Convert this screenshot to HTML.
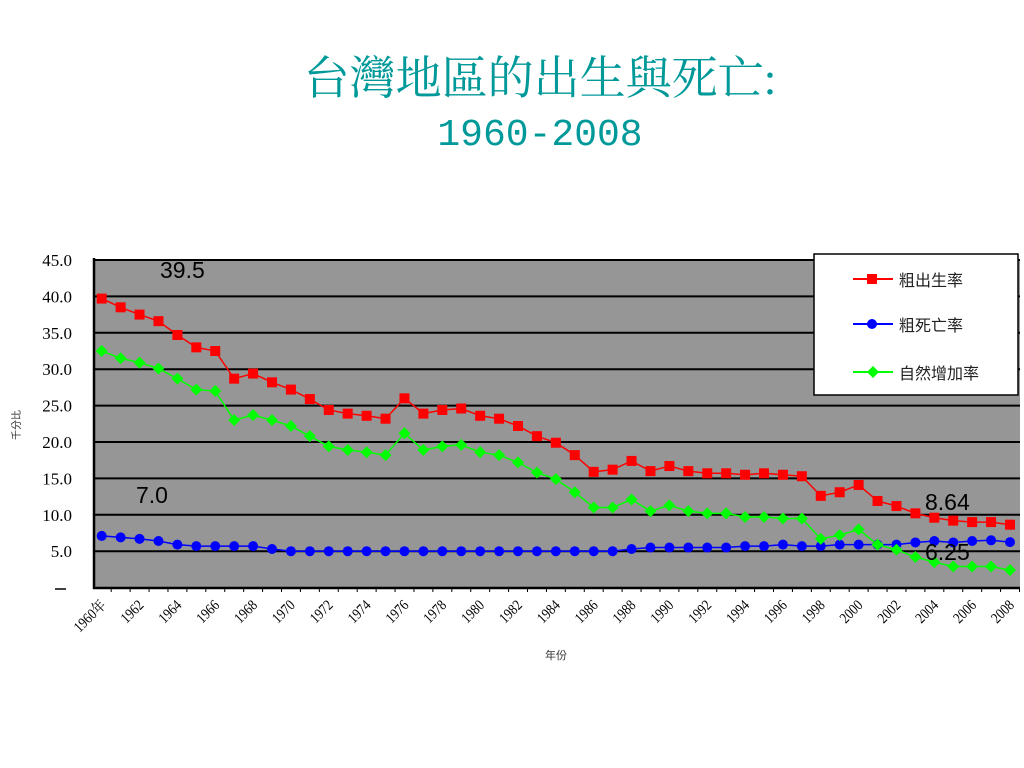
<!DOCTYPE html>
<html><head><meta charset="utf-8"><style>
body{margin:0;background:#fff;width:1024px;height:768px;overflow:hidden}
svg{display:block}
</style></head><body>
<svg id="chart" width="1024" height="768" xmlns="http://www.w3.org/2000/svg">
<text x="540" y="94" text-anchor="middle" font-family="'Liberation Serif','Noto Serif CJK SC',serif" font-size="46" fill="#009999">台灣地區的出生與死亡:</text>
<text x="540" y="145" text-anchor="middle" font-family="'Liberation Mono',monospace" font-size="38" fill="#009999">1960-2008</text>
<rect x="94" y="260" width="926" height="328" fill="#969696"/>
<g id="grid"></g>
<g id="series"></g>
<g id="axes"></g>
<text transform="translate(20,425) rotate(-90)" text-anchor="middle" font-family="'Liberation Sans','Noto Sans CJK TC',sans-serif" font-size="10" fill="#333">千分比</text>
<text x="556" y="659" text-anchor="middle" font-family="'Liberation Sans','Noto Sans CJK TC',sans-serif" font-size="11" fill="#333">年份</text>
<text x="160" y="278" font-family="'Liberation Sans',sans-serif" font-size="23" fill="#000">39.5</text>
<text x="136" y="503" font-family="'Liberation Sans',sans-serif" font-size="23" fill="#000">7.0</text>
<text x="925" y="510" font-family="'Liberation Sans',sans-serif" font-size="23" fill="#000">8.64</text>
<text x="925" y="560" font-family="'Liberation Sans',sans-serif" font-size="23" fill="#000">6.25</text>
<g>
<rect x="814" y="254" width="204" height="141" fill="#fff" stroke="#000" stroke-width="1.5"/>
<g><line x1="853" y1="279" x2="893" y2="279" stroke="#f00" stroke-width="2"/><rect x="867" y="274" width="10" height="10" fill="#f00"/><text x="899" y="286" font-family="'Liberation Sans','Noto Sans CJK TC',sans-serif" font-size="16" fill="#222">粗出生率</text></g>
<g><line x1="853" y1="324" x2="893" y2="324" stroke="#00f" stroke-width="2"/><circle cx="872" cy="324" r="5" fill="#00f"/><text x="899" y="331" font-family="'Liberation Sans','Noto Sans CJK TC',sans-serif" font-size="16" fill="#222">粗死亡率</text></g>
<g><line x1="853" y1="372" x2="893" y2="372" stroke="#0f0" stroke-width="2"/><polygon points="873,366 879,372 873,378 867,372" fill="#0f0"/><text x="899" y="379" font-family="'Liberation Sans','Noto Sans CJK TC',sans-serif" font-size="16" fill="#222">自然增加率</text></g>
</g>
</svg>
<script>
const years=[];for(let y=1960;y<=2008;y++)years.push(y);
const birthRate=[39.7,38.5,37.5,36.6,34.7,33.0,32.5,28.7,29.4,28.2,27.2,25.9,24.4,23.9,23.6,23.2,26.0,23.9,24.4,24.6,23.6,23.2,22.2,20.8,19.9,18.2,15.9,16.2,17.4,16.0,16.7,16.0,15.7,15.7,15.5,15.7,15.5,15.3,12.6,13.1,14.1,11.9,11.2,10.2,9.6,9.2,9.0,9.0,8.64];
const deathRate=[7.1,6.9,6.7,6.4,5.9,5.7,5.7,5.7,5.7,5.3,5.0,5.0,5.0,5.0,5.0,5.0,5.0,5.0,5.0,5.0,5.0,5.0,5.0,5.0,5.0,5.0,5.0,5.0,5.3,5.5,5.5,5.5,5.5,5.5,5.7,5.7,5.9,5.7,5.7,5.9,5.9,5.9,5.9,6.2,6.4,6.2,6.4,6.5,6.25];
const naturalRate=[32.5,31.5,30.9,30.1,28.7,27.2,27.0,23.0,23.7,23.0,22.2,20.8,19.4,18.9,18.6,18.2,21.2,18.9,19.4,19.6,18.6,18.2,17.2,15.8,14.9,13.1,11.0,11.0,12.1,10.5,11.3,10.5,10.2,10.2,9.7,9.7,9.5,9.5,6.7,7.2,8.0,5.9,5.2,4.2,3.5,2.9,2.9,2.9,2.4];
const yTicks=[5,10,15,20,25,30,35,40,45];
const NS='http://www.w3.org/2000/svg';
const x=i=>101.7+i*(1010-101.7)/(years.length-1);
const y=v=>587.6-v*(587.6-260)/45;
function mk(tag,attrs,parent){const e=document.createElementNS(NS,tag);for(const k in attrs)e.setAttribute(k,attrs[k]);parent.appendChild(e);return e;}
const grid=document.getElementById('grid'),axes=document.getElementById('axes'),ser=document.getElementById('series');
yTicks.forEach(t=>{
  const l=mk('line',{x1:94,x2:1020,y1:y(t),y2:y(t),stroke:'#000','stroke-width':2},grid);
  
  
  const tx=mk('text',{x:72,y:y(t)+6,'text-anchor':'end','font-family':"'Liberation Serif',serif",'font-size':17,fill:'#000'},axes);
  tx.textContent=t.toFixed(1);
  
  
});
const zl=mk('line',{x1:55,x2:66,y1:589,y2:589,stroke:'#000','stroke-width':1.5},axes);


const ya=mk('line',{x1:94,x2:94,y1:258,y2:589,stroke:'#000','stroke-width':2.5},axes);


const xa=mk('line',{x1:93,x2:1020,y1:588,y2:588,stroke:'#000','stroke-width':2.5},axes);


years.forEach((yr,i)=>{
  const tk=mk('line',{x1:x(i)+9.5,x2:x(i)+9.5,y1:588,y2:592,stroke:'#000','stroke-width':1},axes);
  
  
  if(i%2===0){
    const tx=mk('text',{transform:`translate(${x(i)+5},${606}) rotate(-45) scale(0.85,1)`,'text-anchor':'end','font-family':"'Liberation Serif','Noto Serif CJK SC',serif",'font-size':15,fill:'#000'},axes);
    tx.textContent=i===0?yr+'年':yr;
    
    
  }
});
function series(arr,color,shape,name){
  const g=mk('g',{},ser);
  
  
  const p=mk('polyline',{points:arr.map((v,i)=>x(i)+','+y(v)).join(' '),fill:'none',stroke:color,'stroke-width':1.5},g);
  
  
  arr.forEach((v,i)=>{
    let m;
    if(shape==='square')m=mk('rect',{x:x(i)-5,y:y(v)-5,width:10,height:10,fill:color},g);
    else if(shape==='circle')m=mk('circle',{cx:x(i),cy:y(v),r:5,fill:color},g);
    else m=mk('polygon',{points:`${x(i)},${y(v)-6} ${x(i)+6},${y(v)} ${x(i)},${y(v)+6} ${x(i)-6},${y(v)}`,fill:color},g);
    
    
  });
}
series(deathRate,'#0000ff','circle','death-rate');
series(naturalRate,'#00ff00','diamond','natural-increase');
series(birthRate,'#ff0000','square','birth-rate');
</script>
</body></html>
